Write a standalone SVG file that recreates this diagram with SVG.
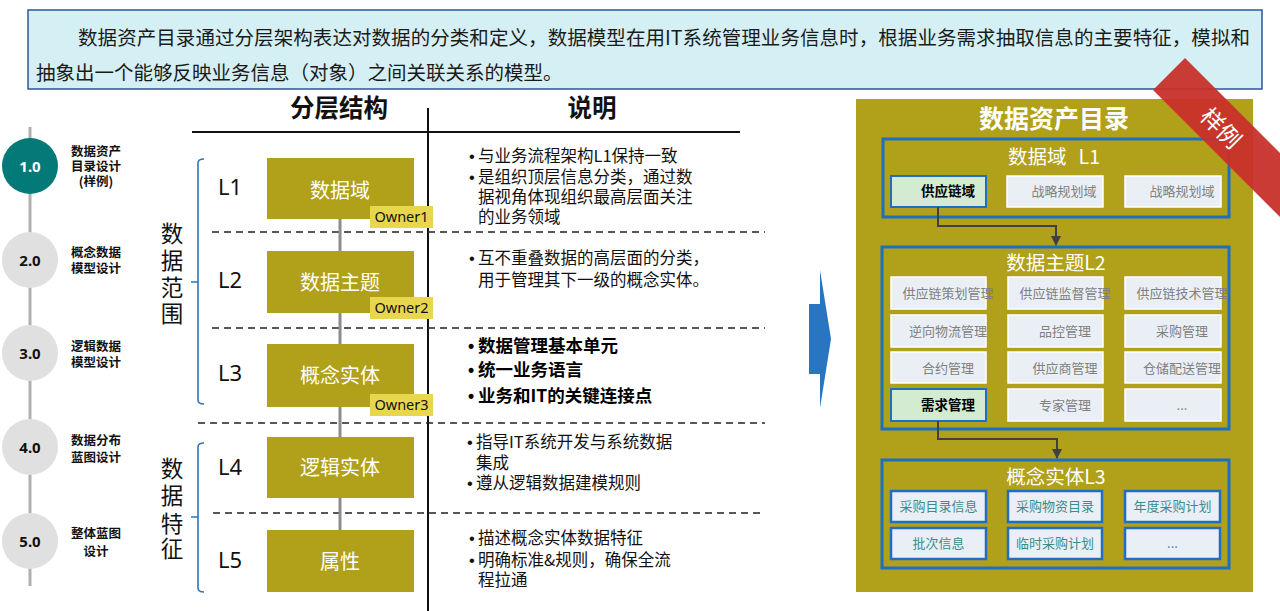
<svg xmlns="http://www.w3.org/2000/svg" width="1280" height="611" viewBox="0 0 1280 611">
<defs>
<marker id="arr" markerWidth="10" markerHeight="10" refX="9" refY="5" orient="auto" markerUnits="userSpaceOnUse"><path d="M0,0 L10,5 L0,10 z" fill="#404040"/></marker>
<style>
text{font-family:"Noto Sans CJK SC","Noto Sans",sans-serif;}
.box{fill:#b1a019;}
.boxt{fill:#fff;font-size:20px;text-anchor:middle;}
.own{fill:#e9d64f;}
.ownt{font-family:"Noto Sans",sans-serif;font-size:14.5px;fill:#111;text-anchor:middle}
.lv{font-family:"Noto Sans",sans-serif;font-size:22px;fill:#111}
.dash{stroke:#222;stroke-width:1.6;stroke-dasharray:7 5;fill:none}
.br{stroke:#2e75b6;stroke-width:1.6;fill:none}
.vt{font-size:22.5px;fill:#111;text-anchor:middle}
.ex{font-size:16.5px;fill:#111}
.exb{font-size:17.5px;fill:#000;font-weight:bold}
.bu{font-family:"Liberation Sans",sans-serif;}
.circ{fill:#e0e0e0}
.ct{font-family:"Noto Sans",sans-serif;font-weight:bold;font-size:15px;text-anchor:middle;fill:#111}
.sl{font-size:12.5px;font-weight:bold;text-anchor:middle;fill:#111}
.grp{fill:none;stroke:#1f6fc0;stroke-width:3}
.it{fill:#eaeff6;stroke:#fff;stroke-width:1.5}
.itt{font-size:13px;fill:#7f7f7f;text-anchor:middle}
.hi{fill:#d3ecd1;stroke:#1f6fc0;stroke-width:2}
.hit{font-size:13.5px;font-weight:bold;fill:#000;text-anchor:middle}
.ce{fill:#eaeff6;stroke:#1f6fc0;stroke-width:2.5}
.cet{font-size:13px;fill:#3a8c8c;text-anchor:middle}
.pt{fill:#fff;font-size:19.5px;text-anchor:middle}
.hd{font-size:24.5px;font-weight:bold;fill:#111;text-anchor:middle}
</style>
</defs>
<rect x="0" y="0" width="1280" height="611" fill="#fff"/>

<g id="banner">
<rect x="28" y="10" width="1234" height="79" fill="#d4f0f5" stroke="#2f5597" stroke-width="1.5"/>
<text x="78" y="45" font-size="19.5" fill="#1a1a1a" textLength="1172" lengthAdjust="spacing">数据资产目录通过分层架构表达对数据的分类和定义，数据模型在用IT系统管理业务信息时，根据业务需求抽取信息的主要特征，模拟和</text>
<text x="36" y="80" font-size="19.5" fill="#1a1a1a">抽象出一个能够反映业务信息（对象）之间关联关系的模型。</text>
</g>

<g id="timeline">
<line x1="30" y1="127" x2="30" y2="586" stroke="#b0b0b0" stroke-width="3"/>
<g id="step1"><circle cx="30" cy="166" r="28" fill="#037a78"/><text class="ct" x="30" y="171.5" style="fill:#fff">1.0</text>
<text class="sl" x="96" y="155.5">数据资产</text><text class="sl" x="96" y="170.5">目录设计</text><text class="sl" x="96" y="185.5">(样例)</text></g>
<g id="step2"><circle class="circ" cx="30" cy="260" r="28"/><text class="ct" x="30" y="265.5">2.0</text>
<text class="sl" x="96" y="256.5">概念数据</text><text class="sl" x="96" y="272.5">模型设计</text></g>
<g id="step3"><circle class="circ" cx="30" cy="353" r="28"/><text class="ct" x="30" y="358.5">3.0</text>
<text class="sl" x="96" y="350.5">逻辑数据</text><text class="sl" x="96" y="366.5">模型设计</text></g>
<g id="step4"><circle class="circ" cx="30" cy="447" r="28"/><text class="ct" x="30" y="452.5">4.0</text>
<text class="sl" x="96" y="444.5">数据分布</text><text class="sl" x="96" y="461.5">蓝图设计</text></g>
<g id="step5"><circle class="circ" cx="30" cy="541" r="28"/><text class="ct" x="30" y="546.5">5.0</text>
<text class="sl" x="96" y="537.5">整体蓝图</text><text class="sl" x="96" y="555.5">设计</text></g>
</g>

<g id="headers">
<text class="hd" x="339" y="117">分层结构</text>
<text class="hd" x="592" y="117">说明</text>
<line x1="192" y1="132" x2="740" y2="132" stroke="#111" stroke-width="2"/>
<line x1="428" y1="108" x2="428" y2="611" stroke="#111" stroke-width="2"/>
<line class="dash" x1="212" y1="232" x2="765" y2="232"/>
<line class="dash" x1="212" y1="328" x2="765" y2="328"/>
<line class="dash" x1="198" y1="423" x2="765" y2="423"/>
<line class="dash" x1="213" y1="513" x2="765" y2="513"/>
</g>

<g id="brackets">
<path class="br" d="M204,159 Q198,159 198,163 V400 Q198,404 204,404 M198,282 H191"/>
<path class="br" d="M204,443 Q198,443 198,447 V588 Q198,592 204,592 M198,517 H191"/>
<text class="vt" x="172" y="242">数</text><text class="vt" x="172" y="269">据</text><text class="vt" x="172" y="296">范</text><text class="vt" x="172" y="322">围</text>
<text class="vt" x="172" y="477">数</text><text class="vt" x="172" y="504">据</text><text class="vt" x="172" y="532">特</text><text class="vt" x="172" y="557">征</text>
</g>

<g id="big-arrow">
<polygon points="809,304 820,304 820,270 831,339 820,408 820,374 809,374" fill="#2a75bf"/>
</g>

<g id="catalog">
<rect x="856" y="99" width="397" height="493" fill="#b1a019"/>
<text x="1054" y="127.5" font-size="25" font-weight="bold" fill="#fff" text-anchor="middle">数据资产目录</text>

<g id="cat-L1">
<rect class="grp" x="883" y="139" width="346" height="78"/>
<text class="pt" x="1054" y="164">数据域<tspan dx="12">L1</tspan></text>
<rect class="hi" x="891" y="176" width="95" height="31"/><text class="hit" x="948" y="196">供应链域</text>
<rect class="it" x="1007" y="176" width="96" height="31"/><text class="itt" x="1064" y="196">战略规划域</text>
<rect class="it" x="1125" y="176" width="96" height="31"/><text class="itt" x="1182" y="196">战略规划域</text>
</g>

<g id="cat-L2">
<rect class="grp" x="882" y="247" width="347" height="182"/>
<text class="pt" x="1056" y="270">数据主题L2</text>
<rect class="it" x="891" y="277" width="95" height="32"/><text class="itt" x="948" y="298">供应链策划管理</text>
<rect class="it" x="1008" y="277" width="95" height="32"/><text class="itt" x="1065" y="298">供应链监督管理</text>
<rect class="it" x="1125" y="277" width="96" height="32"/><text class="itt" x="1182" y="298">供应链技术管理</text>
<rect class="it" x="891" y="315" width="95" height="32"/><text class="itt" x="948" y="336">逆向物流管理</text>
<rect class="it" x="1008" y="315" width="95" height="32"/><text class="itt" x="1065" y="336">品控管理</text>
<rect class="it" x="1125" y="315" width="96" height="32"/><text class="itt" x="1182" y="336">采购管理</text>
<rect class="it" x="891" y="352" width="95" height="31"/><text class="itt" x="948" y="372.5">合约管理</text>
<rect class="it" x="1008" y="352" width="95" height="31"/><text class="itt" x="1065" y="372.5">供应商管理</text>
<rect class="it" x="1125" y="352" width="96" height="31"/><text class="itt" x="1182" y="372.5">仓储配送管理</text>
<rect class="hi" x="891" y="389" width="95" height="32"/><text class="hit" x="948" y="410">需求管理</text>
<rect class="it" x="1008" y="389" width="95" height="32"/><text class="itt" x="1065" y="410">专家管理</text>
<rect class="it" x="1125" y="389" width="96" height="32"/><text class="itt" x="1182" y="410">...</text>
</g>

<g id="cat-L3">
<rect class="grp" x="882" y="460" width="347" height="108"/>
<text class="pt" x="1056" y="484">概念实体L3</text>
<rect class="ce" x="891" y="491" width="95" height="31"/><text class="cet" x="938.5" y="511">采购目录信息</text>
<rect class="ce" x="1008" y="491" width="94" height="31"/><text class="cet" x="1055" y="511">采购物资目录</text>
<rect class="ce" x="1125" y="491" width="95" height="31"/><text class="cet" x="1172.5" y="511">年度采购计划</text>
<rect class="ce" x="891" y="528" width="95" height="31"/><text class="cet" x="938.5" y="548">批次信息</text>
<rect class="ce" x="1008" y="528" width="94" height="31"/><text class="cet" x="1055" y="548">临时采购计划</text>
<rect class="ce" x="1125" y="528" width="95" height="31"/><text class="cet" x="1172.5" y="548">...</text>
</g>
</g>

<g id="connectors">
<line x1="340" y1="219" x2="340" y2="530" stroke="#8c8c8c" stroke-width="3"/>
<path d="M938,207 V226 H1056 V245" fill="none" stroke="#404040" stroke-width="2" marker-end="url(#arr)"/>
<path d="M938,421 V439 H1057 V458" fill="none" stroke="#404040" stroke-width="2" marker-end="url(#arr)"/>
</g>

<g id="layer-L1">
<text class="lv" x="218" y="195">L1</text>
<rect class="box" x="267" y="158" width="147" height="61"/>
<text class="boxt" x="340" y="197.5">数据域</text>
<rect class="own" x="370" y="206" width="63" height="22"/>
<text class="ownt" x="401.5" y="222">Owner1</text>
</g>
<g id="layer-L2">
<text class="lv" x="218" y="288">L2</text>
<rect class="box" x="267" y="251" width="147" height="62"/>
<text class="boxt" x="340" y="289.5">数据主题</text>
<rect class="own" x="370" y="297" width="63" height="22"/>
<text class="ownt" x="401.5" y="313">Owner2</text>
</g>
<g id="layer-L3">
<text class="lv" x="218" y="381">L3</text>
<rect class="box" x="267" y="344" width="147" height="63"/>
<text class="boxt" x="340" y="382.5">概念实体</text>
<rect class="own" x="370" y="394" width="63" height="22"/>
<text class="ownt" x="401.5" y="410">Owner3</text>
</g>
<g id="layer-L4">
<text class="lv" x="218" y="475">L4</text>
<rect class="box" x="267" y="437" width="147" height="61"/>
<text class="boxt" x="340" y="474.5">逻辑实体</text>
</g>
<g id="layer-L5">
<text class="lv" x="218" y="568">L5</text>
<rect class="box" x="267" y="530" width="147" height="62"/>
<text class="boxt" x="340" y="568.5">属性</text>
</g>

<g id="desc-L1">
<text class="ex bu" x="469" y="162">•</text><text class="ex" x="478" y="162">与业务流程架构L1保持一致</text>
<text class="ex bu" x="469" y="183">•</text><text class="ex" x="478" y="183">是组织顶层信息分类，通过数</text>
<text class="ex" x="478" y="203">据视角体现组织最高层面关注</text>
<text class="ex" x="478" y="223">的业务领域</text>
</g>
<g id="desc-L2">
<text class="ex bu" x="469" y="264">•</text><text class="ex" x="478" y="264">互不重叠数据的高层面的分类，</text>
<text class="ex" x="478" y="286">用于管理其下一级的概念实体。</text>
</g>
<g id="desc-L3">
<text class="exb bu" x="468" y="352">•</text><text class="exb" x="478" y="352">数据管理基本单元</text>
<text class="exb bu" x="468" y="376">•</text><text class="exb" x="478" y="376">统一业务语言</text>
<text class="exb bu" x="468" y="402">•</text><text class="exb" x="478" y="402">业务和IT的关键连接点</text>
</g>
<g id="desc-L4">
<text class="ex bu" x="467" y="448">•</text><text class="ex" x="476" y="448">指导IT系统开发与系统数据</text>
<text class="ex" x="476" y="469">集成</text>
<text class="ex bu" x="467" y="489">•</text><text class="ex" x="476" y="489">遵从逻辑数据建模规则</text>
</g>
<g id="desc-L5">
<text class="ex bu" x="469" y="544">•</text><text class="ex" x="478" y="544">描述概念实体数据特征</text>
<text class="ex bu" x="469" y="566">•</text><text class="ex" x="478" y="566">明确标准&amp;规则，确保全流</text>
<text class="ex" x="478" y="586">程拉通</text>
</g>

<g id="ribbon">
<polygon points="1185,58 1153,90 1310,247 1342,215" fill="#c8302a" opacity="0.95"/>
<text x="1222" y="127" font-size="23" fill="#fff" text-anchor="middle" dominant-baseline="central" transform="rotate(45 1222 127)">样例</text>
</g>
</svg>
